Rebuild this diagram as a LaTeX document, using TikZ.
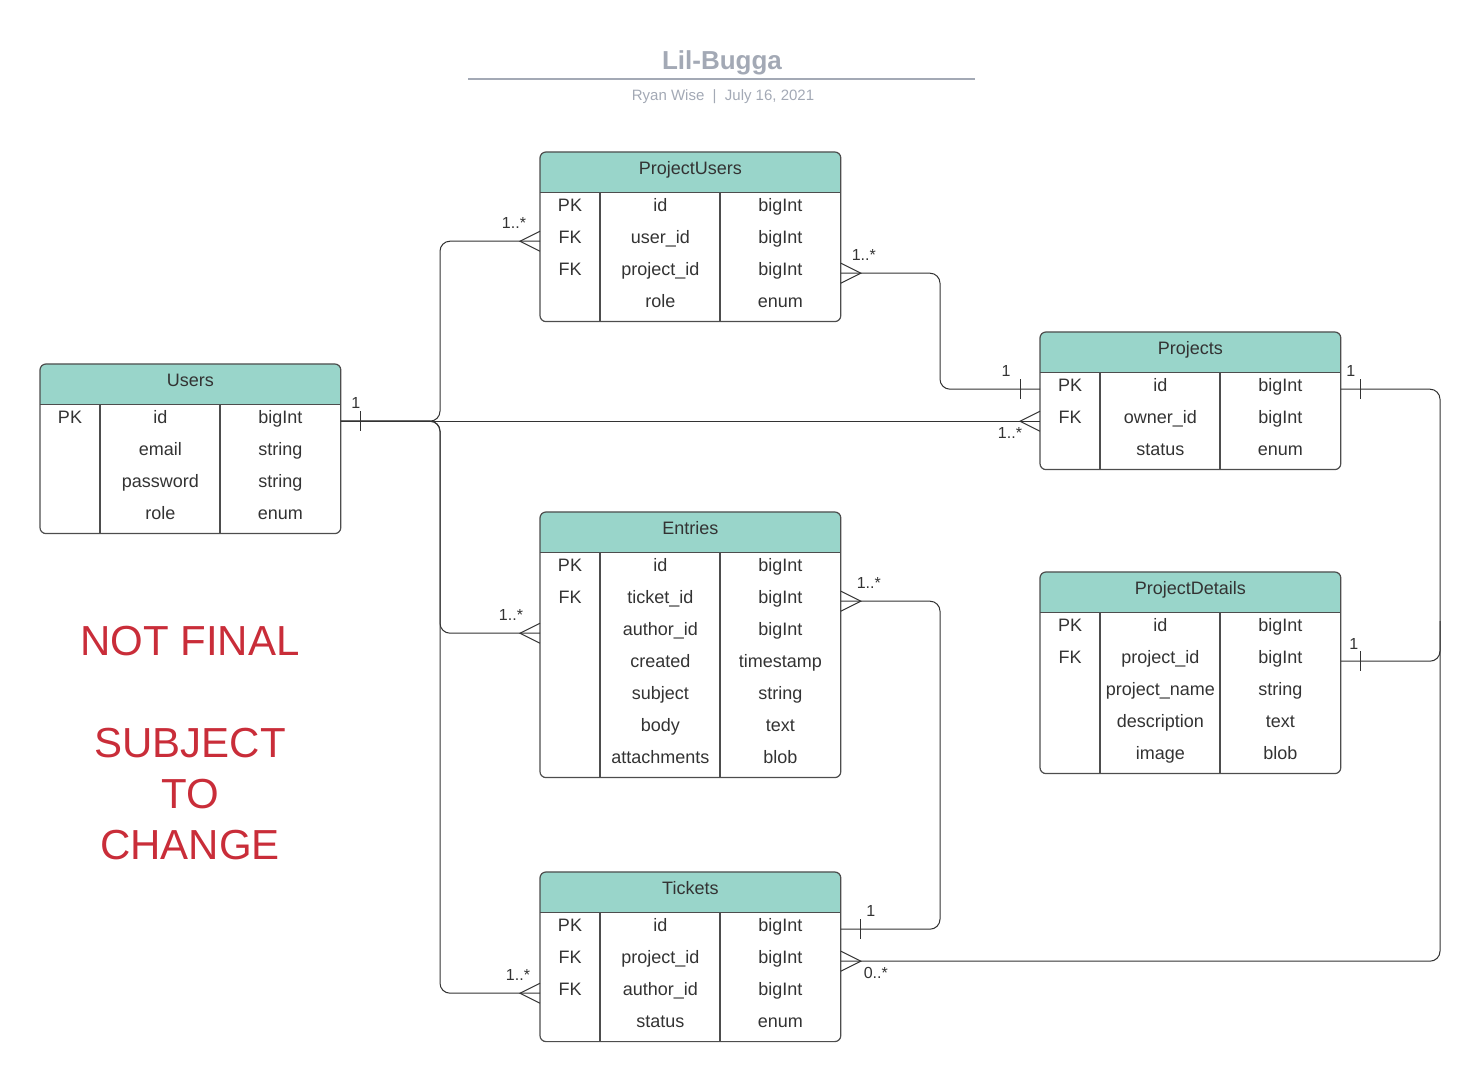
\documentclass[tikz,border=0pt]{standalone}
\usepackage{fontspec}
\setmainfont{Liberation Sans}
\usetikzlibrary{calc}

\definecolor{headcol}{HTML}{99D5CA}
\definecolor{framecol}{HTML}{4D4D4D}
\definecolor{linecol}{HTML}{333333}
\definecolor{titlecol}{HTML}{A3A9B5}
\definecolor{warncol}{HTML}{C92D39}

\tikzset{
  tablehead/.style={minimum width=150pt, minimum height=20pt, inner sep=0pt, anchor=north west},
  tablerow/.style={minimum width=150pt, minimum height=16pt, inner sep=0pt, anchor=north},
  cell/.style={inner sep=0pt, text height=6.5pt, text depth=2pt, yshift=1pt, font=\fontsize{9}{10}\selectfont, text=linecol},
  frame/.style={draw=framecol, line width=0.6pt},
  conn/.style={draw=linecol, line width=0.5pt, rounded corners=5pt},
  mult/.style={inner sep=0pt, font=\fontsize{8}{9}\selectfont, text=linecol},
  warn/.style={text=warncol, align=center, font=\fontsize{21}{25.5}\selectfont},
}

% #1 name, #2 title, #3 top left corner, #4 number of rows, #5 rows key/field/type
\newcommand{\ertable}[5]{%
  \path (#3) node[tablehead] (#1) {};
  \fill[headcol, rounded corners=3pt] (#1.north west) rectangle (#1.south east);
  \fill[headcol] (#1.west) rectangle (#1.south east);
  \node[cell] (#1-title) at (#1.center) {#2};
  \foreach \k/\f/\t [count=\i] in {#5} {
    \node[tablerow] (#1-\i) at ([yshift={-16pt*(\i-1)}]#1.south) {};
    \node[cell] (#1-\i-key) at ([xshift=15pt]#1-\i.west) {\k};
    \node[cell] (#1-\i-field) at ([xshift=-15pt]#1-\i.center) {\f};
    \node[cell] (#1-\i-type) at ([xshift=45pt]#1-\i.center) {\t};
  }
  \draw[frame, rounded corners=3pt] (#1.north west) rectangle (#1-#4.south east);
  \draw[frame] (#1.south west) -- (#1.south east);
  \draw[frame] ([xshift=30pt]#1.south west) -- ([xshift=30pt]#1-#4.south west);
  \draw[frame] ([xshift=90pt]#1.south west) -- ([xshift=90pt]#1-#4.south west);
}

% many end: #1 anchor on the table side, #2 = 1 if the line leaves to the right, -1 if to the left
\newcommand{\crowfoot}[2]{%
  \draw[linecol, line width=0.5pt] ([yshift=5pt]#1) -- ([xshift=#2*10pt]#1) -- ([yshift=-5pt]#1);
}
% one end
\newcommand{\onebar}[2]{%
  \draw[linecol, line width=0.5pt] ([xshift=#2*10pt, yshift=5pt]#1) -- ([xshift=#2*10pt, yshift=-5pt]#1);
}

\begin{document}
\begin{tikzpicture}[x=0.5pt, y=-0.5pt]
  \useasboundingbox (0,0) rectangle (1480,1080);

  % title block
  \node[font=\bfseries\fontsize{13}{15}\selectfont, text=titlecol] (title) at (722,63) {Lil-Bugga};
  \draw[titlecol, line width=1pt] (468,79) -- (975,79);
  \node[font=\fontsize{7.5}{9}\selectfont, text=titlecol] (byline) at (723,97) {Ryan Wise~~|~~July 16, 2021};

  % tables
  \ertable{users}{Users}{40,364}{4}{PK/id/bigInt, /email/string, /password/string, /role/enum}
  \ertable{pusers}{ProjectUsers}{540,152}{4}{PK/id/bigInt, FK/user\_id/bigInt, FK/project\_id/bigInt, /role/enum}
  \ertable{projects}{Projects}{1040,332}{3}{PK/id/bigInt, FK/owner\_id/bigInt, /status/enum}
  \ertable{entries}{Entries}{540,512}{7}{PK/id/bigInt, FK/ticket\_id/bigInt, /author\_id/bigInt, /created/timestamp, /subject/string, /body/text, /attachments/blob}
  \ertable{pdetails}{ProjectDetails}{1040,572}{5}{PK/id/bigInt, FK/project\_id/bigInt, /project\_name/string, /description/text, /image/blob}
  \ertable{tickets}{Tickets}{540,872}{4}{PK/id/bigInt, FK/project\_id/bigInt, FK/author\_id/bigInt, /status/enum}

  % relations
  \coordinate (trunk) at (440,0);
  \coordinate (midr) at (940,0);
  \coordinate (farr) at (1440,0);

  \draw[conn] (users-1.east) -- (trunk |- users-1.east) |- (pusers-2.west);
  \draw[conn] (users-1.east) -- (trunk |- users-1.east) |- (entries-3.west);
  \draw[conn] (users-1.east) -- (trunk |- users-1.east) |- (tickets-3.west);
  \draw[conn] (users-1.east) -- (projects-2.west);
  \draw[conn] (pusers-3.east) -- (midr |- pusers-3.east) |- (projects-1.west);
  \draw[conn] (entries-2.east) -- (midr |- entries-2.east) |- (tickets-1.east);
  \draw[conn] (projects-1.east) -- (farr |- projects-1.east) |- (tickets-2.east);
  \draw[conn] (pdetails-2.east) -| ([yshift=20pt]farr |- pdetails-2.east);

  \onebar{users-1.east}{1}
  \crowfoot{pusers-2.west}{-1}
  \crowfoot{entries-3.west}{-1}
  \crowfoot{tickets-3.west}{-1}
  \crowfoot{projects-2.west}{-1}
  \crowfoot{pusers-3.east}{1}
  \onebar{projects-1.west}{-1}
  \crowfoot{entries-2.east}{1}
  \onebar{tickets-1.east}{1}
  \onebar{projects-1.east}{1}
  \crowfoot{tickets-2.east}{1}
  \onebar{pdetails-2.east}{1}

  % multiplicities
  \node[mult] (m-users) at ([xshift=7.5pt, yshift=9pt]users-1.east) {1};
  \node[mult] (m-pusers-user) at ([xshift=-13pt, yshift=9pt]pusers-2.west) {1..*};
  \node[mult] (m-projects-owner) at ([xshift=-15pt, yshift=-6pt]projects-2.west) {1..*};
  \node[mult] (m-entries-author) at ([xshift=-14.5pt, yshift=9pt]entries-3.west) {1..*};
  \node[mult] (m-tickets-author) at ([xshift=-11pt, yshift=9pt]tickets-3.west) {1..*};
  \node[mult] (m-pusers-project) at ([xshift=11.5pt, yshift=9pt]pusers-3.east) {1..*};
  \node[mult] (m-projects-in) at ([xshift=-17pt, yshift=9pt]projects-1.west) {1};
  \node[mult] (m-entries-ticket) at ([xshift=14pt, yshift=9pt]entries-2.east) {1..*};
  \node[mult] (m-tickets-id) at ([xshift=15pt, yshift=9pt]tickets-1.east) {1};
  \node[mult] (m-projects-out) at ([xshift=5pt, yshift=9pt]projects-1.east) {1};
  \node[mult] (m-tickets-project) at ([xshift=17.5pt, yshift=-6pt]tickets-2.east) {0..*};
  \node[mult] (m-pdetails) at ([xshift=6.5pt, yshift=8.5pt]pdetails-2.east) {1};

  % note
  \node[warn] (notfinal) at (190,641) {NOT FINAL};
  \node[warn] (subject) at (190,794) {SUBJECT\\TO\\CHANGE};
\end{tikzpicture}
\end{document}
